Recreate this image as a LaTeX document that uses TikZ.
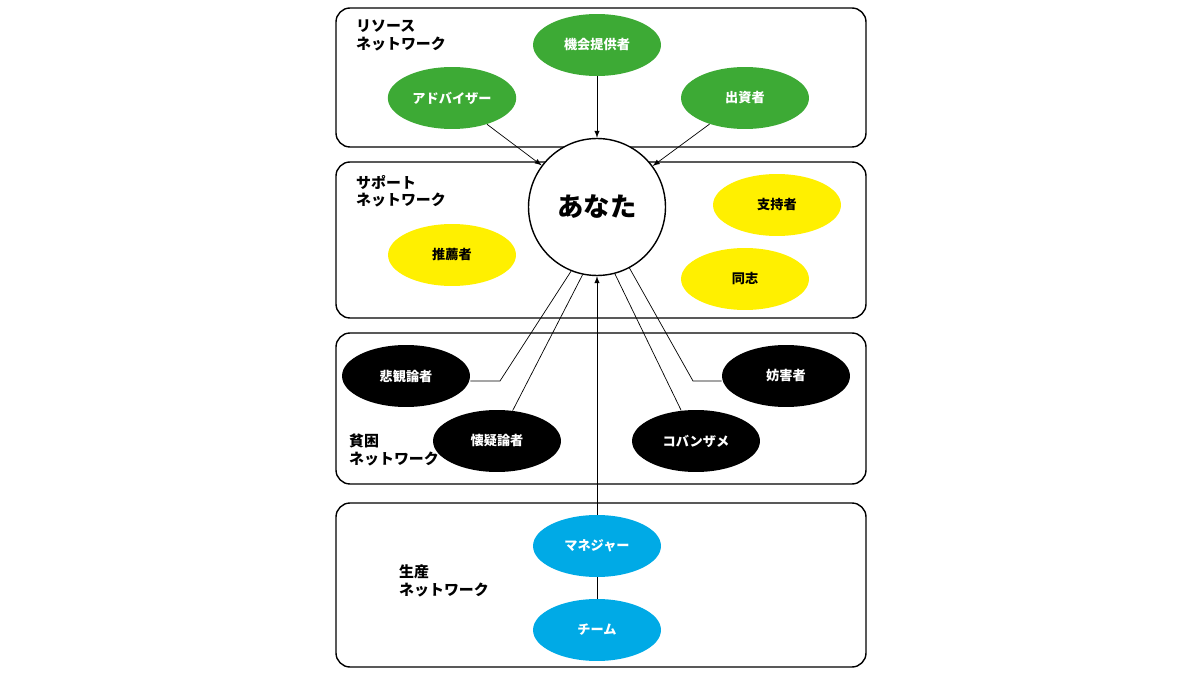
\documentclass[tikz,border=0pt]{standalone}
\usepackage{fontspec}
\setmainfont{Noto Sans CJK JP}
\usetikzlibrary{positioning, shapes.geometric, arrows}
\definecolor{resgreen}{RGB}{61,170,53}
\definecolor{supyellow}{RGB}{255,240,0}
\definecolor{prodblue}{RGB}{0,170,230}
\tikzset{
	group/.style={
		draw, % Border of the network box
		rounded corners=8pt,
		thick
	},
	person/.style n args={2}{
		ellipse, % Shape of the node
		minimum width=2.56cm,
		minimum height=1.24cm,
		fill=#1, % Fill color
		text=#2,
		font=\fontsize{7.5}{9}\selectfont\bfseries
	},
	title/.style={
		align=left,
		anchor=north west,
		font=\fontsize{8.5}{10}\selectfont\bfseries
	}
}
\begin{document}
\begin{tikzpicture}[x=0.02cm, y=-0.02cm]
	\useasboundingbox (0,0) rectangle (1200,675);
	
	% network boxes
	\draw[group] (336,8) rectangle (866,147);
	\draw[group] (336,162) rectangle (866,318);
	\draw[group] (336,333) rectangle (866,484);
	\draw[group] (336,503) rectangle (866,667);
	\node[title] (tres) at (350,14) {リソース\\ネットワーク};
	\node[title] (tsup) at (350,169) {サポート\\ネットワーク};
	\node[title] (tpov) at (343,428) {貧困\\ネットワーク};
	\node[title] (tpro) at (393,559) {生産\\ネットワーク};
	
	\node[circle, draw, thick, fill=white, minimum size=2.74cm, font=\fontsize{15}{18}\selectfont\bfseries] (you) at (597,207) {あなた};
	
	% resource
	\node[person={resgreen}{white}] (opp) at (597,45) {機会提供者};
	\node[person={resgreen}{white}] (adv) at (452,98) {アドバイザー};
	\node[person={resgreen}{white}] (inv) at (745,98) {出資者};
	\draw[-latex] (opp) -- (you);
	\draw[-latex] (adv) -- (you);
	\draw[-latex] (inv) -- (you);
	
	% support
	\node[person={supyellow}{black}] (sup) at (777,205) {支持者};
	\node[person={supyellow}{black}] (com) at (745,279) {同志};
	\node[person={supyellow}{black}] (rec) at (452,255) {推薦者};
	
	% poverty
	\node[person={black}{white}] (pes) at (406,376) {悲観論者};
	\node[person={black}{white}] (ske) at (497,441) {懐疑論者};
	\node[person={black}{white}] (obs) at (786,376) {妨害者};
	\node[person={black}{white}] (par) at (696,441) {コバンザメ};
	\coordinate (pesk) at (500,381);
	\coordinate (obsk) at (693,381);
	\draw (pes.east |- pesk) -- (pesk) -- (you.-112);
	\draw (ske) -- (you.-102);
	\draw (par) -- (you.-75);
	\draw (obs.west |- obsk) -- (obsk) -- (you.-62);
	
	% production
	\node[person={prodblue}{white}] (man) at (597,546) {マネジャー};
	\node[person={prodblue}{white}] (team) at (597,630) {チーム};
	\draw[-latex] (man) -- (you);
	\draw (man) -- (team);
\end{tikzpicture}
\end{document}
